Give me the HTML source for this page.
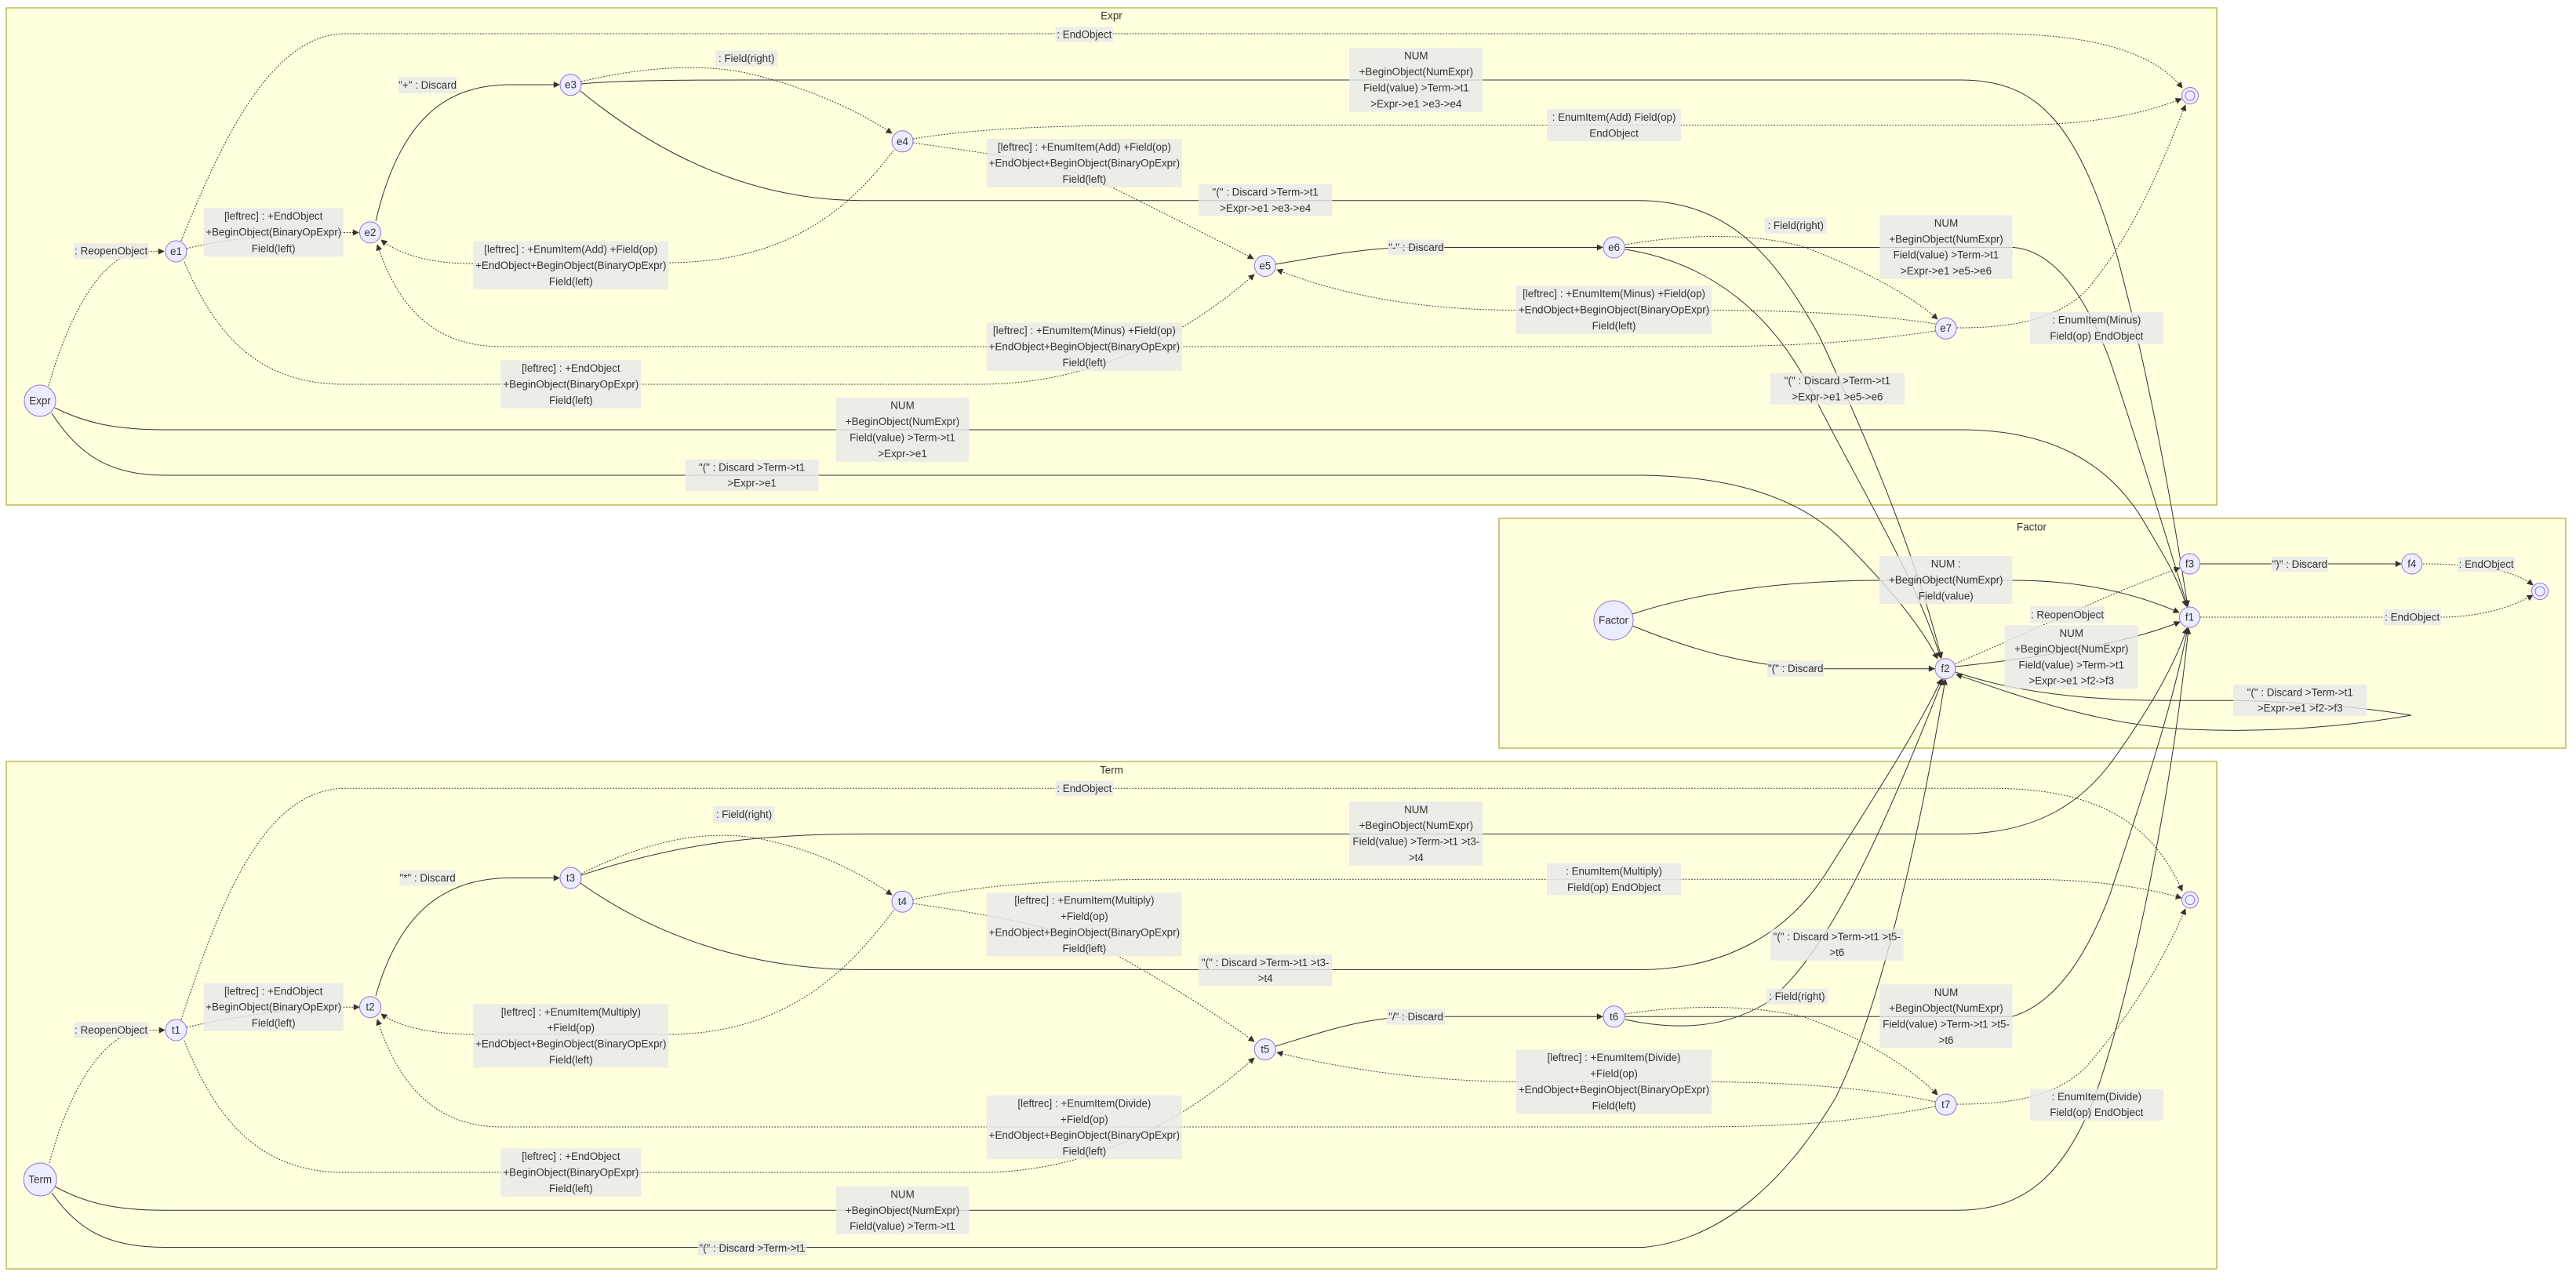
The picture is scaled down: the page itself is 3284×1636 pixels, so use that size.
<!DOCTYPE html>
<html>
<head>
<meta charset="utf-8">
<style>
html,body{margin:0;padding:0;background:#fff;}
svg{display:block;}
.cl{fill:#ffffde;stroke:#aaaa33;stroke-width:1.2;}
.s{fill:none;stroke:#333;stroke-width:1;marker-end:url(#ah);}
.d{fill:none;stroke:#333;stroke-width:1;stroke-dasharray:1.8 1.8;marker-end:url(#ah);}
.lb{fill:rgba(232,232,232,0.8);}
text{font-family:"Liberation Sans",Arial,sans-serif;font-size:13.4px;fill:#333;text-anchor:middle;dominant-baseline:central;}
.nd{fill:#ECECFF;stroke:#9370DB;stroke-width:1;}
</style>
</head>
<body>
<svg width="3284" height="1636" viewBox="0 0 3284 1636" xmlns="http://www.w3.org/2000/svg">
<defs>
<marker id="ah" viewBox="0 0 10 10" refX="9" refY="5" markerUnits="userSpaceOnUse" markerWidth="10" markerHeight="8" orient="auto">
<path d="M0,0 L10,5 L0,10 z" fill="#333"/>
</marker>
</defs>

<!-- clusters -->
<rect class="cl" x="8" y="10" width="2818" height="634"/>
<rect class="cl" x="1911" y="661" width="1360" height="293"/>
<rect class="cl" x="8" y="971" width="2818" height="647"/>
<text x="1417" y="20">Expr</text>
<text x="2590" y="672">Factor</text>
<text x="1417" y="982">Term</text>

<!-- Expr edges -->
<path class="d" d="M 62,492 C 85,410 125,330 175,321 L 209,320.5"/>
<path class="d" d="M 238,317 C 290,303 380,296.5 440,296.5 L 457,296.5"/>
<path class="d" d="M 231,307 C 275,200 340,43 440,43 L 2540,43 C 2650,43 2740,60 2782,112"/>
<path class="d" d="M 235,334 C 280,440 340,490 440,490 L 1250,490 C 1400,490 1520,420 1599,350"/>
<path class="s" d="M 479,282 C 510,150 570,108 650,108 L 713,108"/>
<path class="d" d="M 741,104 C 820,85 900,80 960,95 C 1040,115 1100,145 1137,170"/>
<path class="s" d="M 741,107 C 780,103 850,102 950,102 L 2500,102 C 2600,102 2650,160 2700,330 C 2740,480 2770,650 2789,773"/>
<path class="s" d="M 740,116 C 830,190 950,255.7 1100,255.7 L 2088,255.7 C 2200,255.7 2260,320 2320,430 C 2380,560 2440,700 2475,839"/>
<path class="d" d="M 1164,177 C 1250,163 1350,159.6 1500,159.6 L 2560,159.6 C 2650,159.6 2720,150 2781,126"/>
<path class="d" d="M 1164,182 C 1250,195 1350,205 1420,240 C 1500,280 1560,310 1598,330"/>
<path class="d" d="M 1139,192 C 1080,270 1000,335 850,335 L 600,336 C 550,336 510,325 486,306"/>
<path class="s" d="M 1626,337 C 1680,328 1740,315.5 1800,315.5 L 2043,315.5"/>
<path class="d" d="M 2072,312 C 2140,300 2230,295 2300,315 C 2380,345 2440,380 2470,407"/>
<path class="s" d="M 2072,315.5 L 2567,315.5 C 2620,320 2660,380 2690,460 C 2730,580 2760,680 2789,774"/>
<path class="s" d="M 2072,318 C 2180,335 2260,400 2310,500 C 2370,620 2440,730 2474,839"/>
<path class="d" d="M 2467,413 C 2400,402 2300,396 2180,395.5 L 1930,395.5 C 1820,395 1720,380 1628,344"/>
<path class="d" d="M 2467,422 C 2380,435 2300,442 2150,442 L 640,442 C 560,442 510,400 481,312"/>
<path class="d" d="M 2495,418 C 2560,418 2620,410 2660,370 C 2720,300 2760,200 2786,134"/>
<path class="s" d="M 70,520 C 110,540 150,548 210,548 L 2500,548 C 2600,548 2680,580 2730,660 C 2760,710 2778,740 2787,773"/>
<path class="s" d="M 66,527 C 100,580 140,606 210,606 L 2096,606 C 2200,608 2290,630 2350,690 C 2410,750 2450,800 2470,840"/>

<!-- Factor edges -->
<path class="s" d="M 2081,783 C 2180,750 2300,740 2400,740 L 2565,740 C 2660,740 2730,760 2778,781"/>
<path class="s" d="M 2081,798 C 2160,830 2240,852.7 2330,852.7 L 2466,852.7"/>
<path class="s" d="M 2493,850 C 2570,842 2700,825 2779,793"/>
<path class="d" d="M 2493,846 C 2580,810 2680,760 2779,724"/>
<path class="s" d="M 2493,857 C 2560,880 2650,893 2760,893.3 L 2850,893.3 C 2950,895 3030,905 3074,912 C 3000,925 2900,935 2790,930 C 2680,925 2580,890 2494,860"/>
<path class="s" d="M 2805,719 L 3061,719"/>
<path class="d" d="M 3089,719 C 3130,719 3200,722 3229,746"/>
<path class="d" d="M 2805,787 L 3110,787 C 3160,787 3200,775 3229,759"/>

<!-- Term edges -->
<path class="d" d="M 63,1483 C 85,1400 125,1325 175,1314 L 210,1313.5"/>
<path class="d" d="M 238,1310 C 300,1295 390,1284.2 440,1284.2 L 458,1284.2"/>
<path class="d" d="M 231,1300 C 275,1170 330,1005.3 440,1005.3 L 2540,1005.3 C 2660,1005.3 2740,1040 2782,1136"/>
<path class="d" d="M 235,1327 C 280,1440 340,1495 440,1495 L 1250,1495 C 1400,1495 1520,1420 1599,1349"/>
<path class="s" d="M 479,1270 C 510,1160 570,1119.5 650,1119.5 L 713,1119.5"/>
<path class="d" d="M 741,1114 C 820,1075 890,1058 960,1068 C 1040,1082 1100,1115 1137,1141"/>
<path class="s" d="M 741,1116 C 850,1080 950,1063.5 1100,1063.5 L 2495,1063.5 C 2600,1063.5 2660,1020 2700,960 C 2750,890 2775,840 2788,801"/>
<path class="s" d="M 740,1126 C 830,1190 950,1236.5 1100,1236.5 L 2088,1236.5 C 2200,1236.5 2280,1190 2330,1110 C 2400,1000 2450,920 2475,866"/>
<path class="d" d="M 1164,1147 C 1250,1128 1350,1121.2 1500,1121.2 L 2580,1121.2 C 2660,1121.2 2730,1130 2781,1145"/>
<path class="d" d="M 1164,1152 C 1250,1165 1350,1180 1420,1216 C 1500,1260 1560,1300 1599,1328"/>
<path class="d" d="M 1139,1161 C 1080,1240 1000,1319 850,1319 L 600,1319 C 550,1318 510,1310 486,1293"/>
<path class="s" d="M 1626,1334 C 1690,1315 1740,1296.3 1810,1296.3 L 2043,1296.3"/>
<path class="d" d="M 2072,1293 C 2140,1282 2230,1280 2300,1297 C 2380,1325 2440,1365 2470,1396"/>
<path class="s" d="M 2072,1296.3 L 2565,1296.3 C 2620,1280 2660,1220 2690,1140 C 2730,1020 2770,900 2789,801"/>
<path class="s" d="M 2072,1300 C 2140,1315 2200,1310 2250,1280 C 2330,1220 2400,1060 2477,866"/>
<path class="d" d="M 2467,1405 C 2400,1390 2300,1380 2180,1379.5 L 1930,1379.5 C 1820,1378 1720,1365 1628,1342"/>
<path class="d" d="M 2467,1411 C 2380,1428 2300,1437 2150,1437 L 640,1437 C 560,1437 510,1390 481,1300"/>
<path class="d" d="M 2495,1408 C 2560,1408 2620,1400 2660,1360 C 2720,1290 2760,1220 2786,1159"/>
<path class="s" d="M 70,1513 C 110,1535 150,1543.3 210,1543.3 L 2495,1543.3 C 2580,1543.3 2630,1500 2670,1400 C 2720,1260 2770,1000 2790,801"/>
<path class="s" d="M 66,1521 C 100,1570 140,1590.5 210,1590.5 L 2096,1590.5 C 2200,1580 2280,1500 2340,1400 C 2400,1280 2450,1050 2480,866"/>

<!-- Expr labels -->
<rect class="lb" x="94" y="310" width="95.4" height="20.4"/>
<text x="141.7" y="320.2">: ReopenObject</text>

<rect class="lb" x="259.6" y="265.3" width="178.1" height="61.8"/>
<text x="348.65" y="275.6">[leftrec] : +EndObject</text>
<text x="348.65" y="296.2">+BeginObject(BinaryOpExpr)</text>
<text x="348.65" y="316.8">Field(left)</text>

<rect class="lb" x="507.9" y="98.3" width="74.4" height="20.7"/>
<text x="545.1" y="108.65">"+" : Discard</text>

<rect class="lb" x="912" y="64.3" width="79.2" height="20.3"/>
<text x="951.6" y="74.45">: Field(right)</text>

<rect class="lb" x="603.3" y="307.6" width="249" height="61.4"/>
<text x="727.8" y="317.8">[leftrec] : +EnumItem(Add) +Field(op)</text>
<text x="727.8" y="338.3">+EndObject+BeginObject(BinaryOpExpr)</text>
<text x="727.8" y="358.8">Field(left)</text>

<rect class="lb" x="638.4" y="459.4" width="178.9" height="61.3"/>
<text x="727.85" y="469.6">[leftrec] : +EndObject</text>
<text x="727.85" y="490.05">+BeginObject(BinaryOpExpr)</text>
<text x="727.85" y="510.5">Field(left)</text>

<rect class="lb" x="1065.6" y="507" width="169.8" height="81.7"/>
<text x="1150.5" y="517.2">NUM</text>
<text x="1150.5" y="537.6">+BeginObject(NumExpr)</text>
<text x="1150.5" y="558.1">Field(value) &gt;Term-&gt;t1</text>
<text x="1150.5" y="578.5">&gt;Expr-&gt;e1</text>

<rect class="lb" x="873.4" y="585.8" width="170.4" height="40.2"/>
<text x="958.6" y="595.85">"(" : Discard &gt;Term-&gt;t1</text>
<text x="958.6" y="615.95">&gt;Expr-&gt;e1</text>

<rect class="lb" x="1345.5" y="34" width="73.7" height="19.9"/>
<text x="1382.35" y="43.95">: EndObject</text>

<rect class="lb" x="1720.1" y="61" width="170.5" height="81.6"/>
<text x="1805.35" y="71.2">NUM</text>
<text x="1805.35" y="91.6">+BeginObject(NumExpr)</text>
<text x="1805.35" y="112">Field(value) &gt;Term-&gt;t1</text>
<text x="1805.35" y="132.4">&gt;Expr-&gt;e1 &gt;e3-&gt;e4</text>

<rect class="lb" x="1972" y="139.3" width="171.1" height="41"/>
<text x="2057.55" y="149.55">: EnumItem(Add) Field(op)</text>
<text x="2057.55" y="170.05">EndObject</text>

<rect class="lb" x="1257.8" y="177" width="249.1" height="61.8"/>
<text x="1382.35" y="187.3">[leftrec] : +EnumItem(Add) +Field(op)</text>
<text x="1382.35" y="207.9">+EndObject+BeginObject(BinaryOpExpr)</text>
<text x="1382.35" y="228.5">Field(left)</text>

<rect class="lb" x="1527.9" y="235" width="170.5" height="40.7"/>
<text x="1613.15" y="245.2">"(" : Discard &gt;Term-&gt;t1</text>
<text x="1613.15" y="265.5">&gt;Expr-&gt;e1 &gt;e3-&gt;e4</text>

<rect class="lb" x="1769.2" y="305.5" width="72.3" height="19.9"/>
<text x="1805.35" y="315.45">"-" : Discard</text>

<rect class="lb" x="1932.7" y="364" width="249.7" height="61.8"/>
<text x="2057.55" y="374.3">[leftrec] : +EnumItem(Minus) +Field(op)</text>
<text x="2057.55" y="394.9">+EndObject+BeginObject(BinaryOpExpr)</text>
<text x="2057.55" y="415.5">Field(left)</text>

<rect class="lb" x="1257.8" y="411.3" width="249.1" height="61.7"/>
<text x="1382.35" y="421.6">[leftrec] : +EnumItem(Minus) +Field(op)</text>
<text x="1382.35" y="442.15">+EndObject+BeginObject(BinaryOpExpr)</text>
<text x="1382.35" y="462.7">Field(left)</text>

<rect class="lb" x="2249.8" y="277" width="78.8" height="20.7"/>
<text x="2289.2" y="287.35">: Field(right)</text>

<rect class="lb" x="2396.3" y="274.4" width="169.4" height="81.3"/>
<text x="2481" y="284.6">NUM</text>
<text x="2481" y="304.9">+BeginObject(NumExpr)</text>
<text x="2481" y="325.2">Field(value) &gt;Term-&gt;t1</text>
<text x="2481" y="345.5">&gt;Expr-&gt;e1 &gt;e5-&gt;e6</text>

<rect class="lb" x="2587.8" y="398" width="170.1" height="40.6"/>
<text x="2672.85" y="408.15">: EnumItem(Minus)</text>
<text x="2672.85" y="428.45">Field(op) EndObject</text>

<rect class="lb" x="2256.7" y="475.5" width="171.4" height="40.6"/>
<text x="2342.4" y="485.65">"(" : Discard &gt;Term-&gt;t1</text>
<text x="2342.4" y="505.95">&gt;Expr-&gt;e1 &gt;e5-&gt;e6</text>

<!-- Factor labels -->
<rect class="lb" x="2396" y="709" width="169.5" height="61"/>
<text x="2480.75" y="719.2">NUM :</text>
<text x="2480.75" y="739.5">+BeginObject(NumExpr)</text>
<text x="2480.75" y="759.8">Field(value)</text>

<rect class="lb" x="2588" y="773.3" width="95" height="21"/>
<text x="2635.5" y="783.8">: ReopenObject</text>

<rect class="lb" x="2555.5" y="797.3" width="170.5" height="81"/>
<text x="2640.75" y="807.4">NUM</text>
<text x="2640.75" y="827.7">+BeginObject(NumExpr)</text>
<text x="2640.75" y="847.9">Field(value) &gt;Term-&gt;t1</text>
<text x="2640.75" y="868.2">&gt;Expr-&gt;e1 &gt;f2-&gt;f3</text>

<rect class="lb" x="2895.6" y="710" width="72.4" height="19.3"/>
<text x="2931.8" y="719.65">")" : Discard</text>

<rect class="lb" x="3133" y="710" width="73.3" height="19.3"/>
<text x="3169.65" y="719.65">: EndObject</text>

<rect class="lb" x="3038.6" y="777" width="73.2" height="20.3"/>
<text x="3075.2" y="787.15">: EndObject</text>

<rect class="lb" x="2253" y="842.3" width="72.4" height="20.7"/>
<text x="2289.2" y="852.65">"(" : Discard</text>

<rect class="lb" x="2847" y="872.7" width="170.4" height="40.6"/>
<text x="2932.2" y="882.85">"(" : Discard &gt;Term-&gt;t1</text>
<text x="2932.2" y="903.15">&gt;Expr-&gt;e1 &gt;f2-&gt;f3</text>

<!-- Term labels -->
<rect class="lb" x="94" y="1303.6" width="95.4" height="19.8"/>
<text x="141.7" y="1313.5">: ReopenObject</text>

<rect class="lb" x="259.6" y="1253.6" width="178.1" height="61.2"/>
<text x="348.65" y="1263.8">[leftrec] : +EndObject</text>
<text x="348.65" y="1284.2">+BeginObject(BinaryOpExpr)</text>
<text x="348.65" y="1304.6">Field(left)</text>

<rect class="lb" x="509.3" y="1109.2" width="71.6" height="20.2"/>
<text x="545.1" y="1119.3">"*" : Discard</text>

<rect class="lb" x="909.2" y="1028.1" width="78.5" height="20.7"/>
<text x="948.45" y="1038.45">: Field(right)</text>

<rect class="lb" x="603.3" y="1280.3" width="249" height="81.1"/>
<text x="727.8" y="1290.4">[leftrec] : +EnumItem(Multiply)</text>
<text x="727.8" y="1310.7">+Field(op)</text>
<text x="727.8" y="1331">+EndObject+BeginObject(BinaryOpExpr)</text>
<text x="727.8" y="1351.3">Field(left)</text>

<rect class="lb" x="638.4" y="1464.4" width="178.9" height="61.6"/>
<text x="727.85" y="1474.7">[leftrec] : +EndObject</text>
<text x="727.85" y="1495.2">+BeginObject(BinaryOpExpr)</text>
<text x="727.85" y="1515.7">Field(left)</text>

<rect class="lb" x="1065.6" y="1512.7" width="169.8" height="61.2"/>
<text x="1150.5" y="1522.9">NUM</text>
<text x="1150.5" y="1543.3">+BeginObject(NumExpr)</text>
<text x="1150.5" y="1563.7">Field(value) &gt;Term-&gt;t1</text>

<rect class="lb" x="889.5" y="1582.1" width="138.9" height="19"/>
<text x="958.95" y="1591.6">"(" : Discard &gt;Term-&gt;t1</text>

<rect class="lb" x="1345.5" y="995.4" width="73.7" height="19.8"/>
<text x="1382.35" y="1005.3">: EndObject</text>

<rect class="lb" x="1720.1" y="1022.1" width="170.5" height="81.5"/>
<text x="1805.35" y="1032.3">NUM</text>
<text x="1805.35" y="1052.7">+BeginObject(NumExpr)</text>
<text x="1805.35" y="1073.1">Field(value) &gt;Term-&gt;t1 &gt;t3-</text>
<text x="1805.35" y="1093.4">&gt;t4</text>

<rect class="lb" x="1972" y="1100.5" width="171.1" height="41"/>
<text x="2057.55" y="1110.75">: EnumItem(Multiply)</text>
<text x="2057.55" y="1131.25">Field(op) EndObject</text>

<rect class="lb" x="1257.8" y="1138" width="249.1" height="81.5"/>
<text x="1382.35" y="1148.2">[leftrec] : +EnumItem(Multiply)</text>
<text x="1382.35" y="1168.6">+Field(op)</text>
<text x="1382.35" y="1188.9">+EndObject+BeginObject(BinaryOpExpr)</text>
<text x="1382.35" y="1209.3">Field(left)</text>

<rect class="lb" x="1527.9" y="1217.4" width="170.5" height="40.1"/>
<text x="1613.15" y="1227.4">"(" : Discard &gt;Term-&gt;t1 &gt;t3-</text>
<text x="1613.15" y="1247.5">&gt;t4</text>

<rect class="lb" x="1767.8" y="1286.4" width="74.4" height="20.2"/>
<text x="1805" y="1296.5">"/" : Discard</text>

<rect class="lb" x="1932.7" y="1338.5" width="249.7" height="81.5"/>
<text x="2057.55" y="1348.7">[leftrec] : +EnumItem(Divide)</text>
<text x="2057.55" y="1369.1">+Field(op)</text>
<text x="2057.55" y="1389.4">+EndObject+BeginObject(BinaryOpExpr)</text>
<text x="2057.55" y="1409.8">Field(left)</text>

<rect class="lb" x="1257.8" y="1396.7" width="249.1" height="81.5"/>
<text x="1382.35" y="1406.9">[leftrec] : +EnumItem(Divide)</text>
<text x="1382.35" y="1427.3">+Field(op)</text>
<text x="1382.35" y="1447.6">+EndObject+BeginObject(BinaryOpExpr)</text>
<text x="1382.35" y="1468">Field(left)</text>

<rect class="lb" x="2256.7" y="1184.2" width="170.1" height="40.5"/>
<text x="2341.75" y="1194.3">"(" : Discard &gt;Term-&gt;t1 &gt;t5-</text>
<text x="2341.75" y="1214.6">&gt;t6</text>

<rect class="lb" x="2251.8" y="1260.5" width="78.2" height="20.3"/>
<text x="2290.9" y="1270.65">: Field(right)</text>

<rect class="lb" x="2396.3" y="1255.3" width="169.4" height="81.1"/>
<text x="2481" y="1265.4">NUM</text>
<text x="2481" y="1285.7">+BeginObject(NumExpr)</text>
<text x="2481" y="1306">Field(value) &gt;Term-&gt;t1 &gt;t5-</text>
<text x="2481" y="1326.3">&gt;t6</text>

<rect class="lb" x="2587.8" y="1388.5" width="170.1" height="40.1"/>
<text x="2672.85" y="1398.5">: EnumItem(Divide)</text>
<text x="2672.85" y="1418.6">Field(op) EndObject</text>

<!-- Expr nodes -->
<circle class="nd" cx="51" cy="511" r="20"/><text x="51" y="511">Expr</text>
<circle class="nd" cx="224.5" cy="320.5" r="13.5"/><text x="224.5" y="320.5">e1</text>
<circle class="nd" cx="472" cy="296.4" r="13.5"/><text x="472" y="296.4">e2</text>
<circle class="nd" cx="727.5" cy="108.2" r="13.5"/><text x="727.5" y="108.2">e3</text>
<circle class="nd" cx="1150.5" cy="180.3" r="13.5"/><text x="1150.5" y="180.3">e4</text>
<circle class="nd" cx="1612.8" cy="339" r="13.5"/><text x="1612.8" y="339">e5</text>
<circle class="nd" cx="2057.6" cy="315.5" r="13.5"/><text x="2057.6" y="315.5">e6</text>
<circle class="nd" cx="2480.7" cy="418.7" r="13.5"/><text x="2480.7" y="418.7">e7</text>
<circle class="nd" cx="2792" cy="122" r="10.5"/><circle class="nd" cx="2792" cy="122" r="6"/>

<!-- Factor nodes -->
<circle class="nd" cx="2057" cy="791" r="25"/><text x="2057" y="791">Factor</text>
<circle class="nd" cx="2791.5" cy="787" r="13"/><text x="2791.5" y="787">f1</text>
<circle class="nd" cx="2480" cy="852.7" r="13"/><text x="2480" y="852.7">f2</text>
<circle class="nd" cx="2791.5" cy="719" r="13"/><text x="2791.5" y="719">f3</text>
<circle class="nd" cx="3074.8" cy="719" r="13"/><text x="3074.8" y="719">f4</text>
<circle class="nd" cx="3238" cy="754" r="10.5"/><circle class="nd" cx="3238" cy="754" r="6"/>

<!-- Term nodes -->
<circle class="nd" cx="51.2" cy="1504" r="21"/><text x="51.2" y="1504">Term</text>
<circle class="nd" cx="224.5" cy="1313.5" r="13.5"/><text x="224.5" y="1313.5">t1</text>
<circle class="nd" cx="472" cy="1284.2" r="13.5"/><text x="472" y="1284.2">t2</text>
<circle class="nd" cx="727.5" cy="1119.5" r="13.5"/><text x="727.5" y="1119.5">t3</text>
<circle class="nd" cx="1150.5" cy="1149.7" r="13.5"/><text x="1150.5" y="1149.7">t4</text>
<circle class="nd" cx="1612.8" cy="1338.1" r="13.5"/><text x="1612.8" y="1338.1">t5</text>
<circle class="nd" cx="2057.6" cy="1296.3" r="13.5"/><text x="2057.6" y="1296.3">t6</text>
<circle class="nd" cx="2480.7" cy="1408.6" r="13.5"/><text x="2480.7" y="1408.6">t7</text>
<circle class="nd" cx="2792" cy="1147.5" r="10.5"/><circle class="nd" cx="2792" cy="1147.5" r="6"/>
</svg>
</body>
</html>
